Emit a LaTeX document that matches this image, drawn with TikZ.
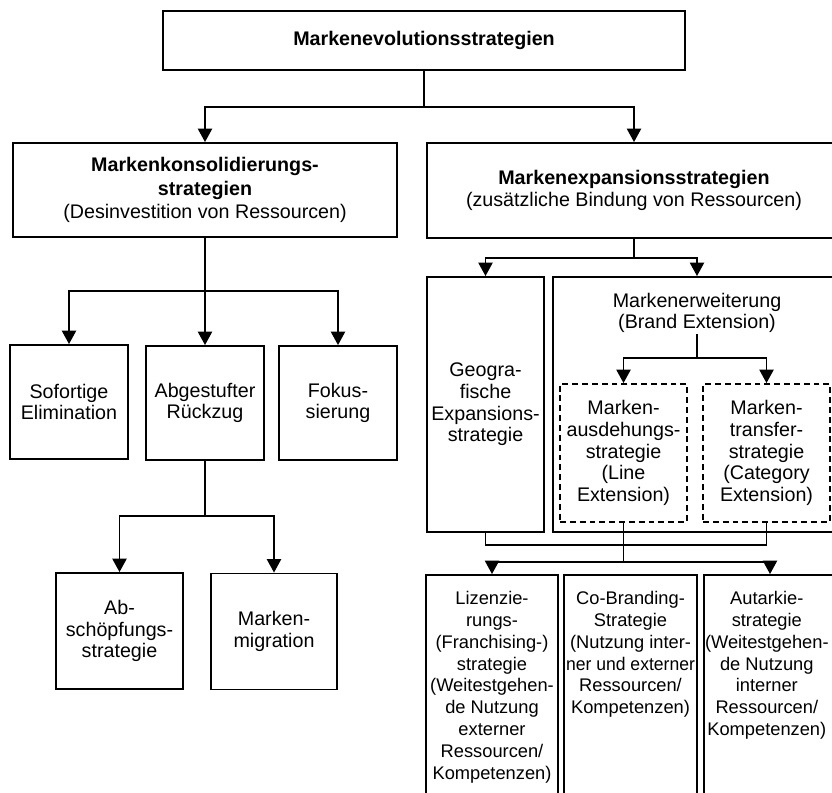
\documentclass[tikz,border=0pt]{standalone}
\usepackage{fontspec}
\setmainfont{Liberation Sans}
\usetikzlibrary{arrows.meta,positioning}
\begin{document}
\begin{tikzpicture}[x=0.025cm,y=-0.025cm,line width=1.3pt,
  box/.style={draw,align=center,inner sep=1pt,font=\fontsize{14}{15.4}\selectfont},
  dbox/.style={box,dash pattern=on 4.2pt off 2.8pt},
  txt/.style={align=center,inner sep=0pt,font=\fontsize{13}{15.6}\selectfont},
  arr/.style={-{Triangle[width=10pt,length=9.5pt]}}]
\useasboundingbox (0,0) rectangle (832,792);
\clip (0,0) rectangle (832,792);

\node[box,minimum width=13.05cm,minimum height=1.475cm] (top) at (424,40.5) {\textbf{Markenevolutionsstrategien}};

\node[box,minimum width=9.6cm,minimum height=2.35cm,font=\fontsize{14}{16.6}\selectfont] (konsol) at (205,190) {\textbf{Markenkonsolidierungs-}\\\textbf{strategien}\\(Desinvestition von Ressourcen)};
\node[box,minimum width=10.35cm,minimum height=2.375cm,font=\fontsize{14}{16}\selectfont] (expans) at (634,190.5) {\textbf{Markenexpansionsstrategien}\\(zusätzliche Bindung von Ressourcen)};

\node[box,minimum width=2.95cm,minimum height=2.85cm] (sofort) at (69,402) {Sofortige\\Elimination};
\node[box,minimum width=2.95cm,minimum height=2.85cm] (abgest) at (205,403) {Abgestufter\\Rückzug};
\node[box,minimum width=2.95cm,minimum height=2.85cm] (fokus) at (338,403) {Fokus-\\sierung};

\node[box,minimum width=3.175cm,minimum height=2.9cm] (absch) at (119.5,631) {Ab-\\schöpfungs-\\strategie};
\node[box,minimum width=3.15cm,minimum height=2.9cm] (migr) at (274,631.5) {Marken-\\migration};

\node[box,minimum width=2.925cm,minimum height=6.375cm] (geo) at (485.5,404.5) {Geogra-\\fische\\Expansions-\\strategie};
\node[box,minimum width=7.2cm,minimum height=6.375cm] (erw) at (697,404.5) {};
\node[txt,font=\fontsize{14}{15.4}\selectfont] (erwlbl) at (697,313) {Markenerweiterung\\(Brand Extension)};
\node[dbox,minimum width=3.175cm,minimum height=3.45cm] (ausd) at (623.5,453) {Marken-\\ausdehungs-\\strategie\\(Line\\Extension)};
\node[dbox,minimum width=3.175cm,minimum height=3.45cm] (transf) at (766.5,453) {Marken-\\transfer-\\strategie\\(Category\\Extension)};

\node[box,minimum width=3.3cm,minimum height=6.125cm] (lizenz) at (492,697.5) {};
\node[box,minimum width=3.325cm,minimum height=6.125cm] (cobrand) at (630.5,697.5) {};
\node[box,minimum width=3.3cm,minimum height=6.125cm] (autark) at (770,697.5) {};
\node[txt,below=0.4cm of lizenz.north] (lizenztxt) {Lizenzie-\\rungs-\\(Franchising-)\\strategie\\(Weitestgehen-\\de Nutzung\\externer\\Ressourcen/\\Kompetenzen)};
\node[txt,below=0.4cm of cobrand.north] (cobrandtxt) {Co-Branding-\\Strategie\\(Nutzung inter-\\\scalebox{0.96}[1]{ner und externer}\\Ressourcen/\\Kompetenzen)};
\node[txt,below=0.4cm of autark.north,xshift=-0.08cm] (autarktxt) {Autarkie-\\strategie\\(Weitestgehen-\\de Nutzung\\interner\\Ressourcen/\\Kompetenzen)};

\coordinate (s1) at (424,107);
\draw (top) -- (s1);
\draw[arr] (s1) -| (konsol);
\draw[arr] (s1) -| (expans);

\coordinate (s2) at (205,291);
\draw (konsol) -- (s2);
\draw[arr] (s2) -| (sofort);
\draw[arr] (s2) -- (abgest);
\draw[arr] (s2) -| (fokus);

\coordinate (s3) at (205,516);
\draw (abgest) -- (s3);
\draw[arr] (s3) -| (absch);
\draw[arr] (s3) -| (migr);

\coordinate (s4) at (634,258);
\draw (expans) -- (s4);
\draw[arr] (s4) -| (geo);
\draw[arr] (s4) -| (erw);

\coordinate (s5) at (697,358);
\draw (erwlbl) -- (s5);
\draw[arr] (s5) -| (ausd);
\draw[arr] (s5) -| (transf);

\coordinate (s6) at (623.5,545);
\coordinate (s7) at (623.5,562);
\draw (geo) |- (s6);
\draw (transf) |- (s6);
\draw (ausd) -- (s6) -- (s7);
\draw[arr] (s7) -| (lizenz);
\draw[arr] (s7) -| (autark);
\end{tikzpicture}
\end{document}
